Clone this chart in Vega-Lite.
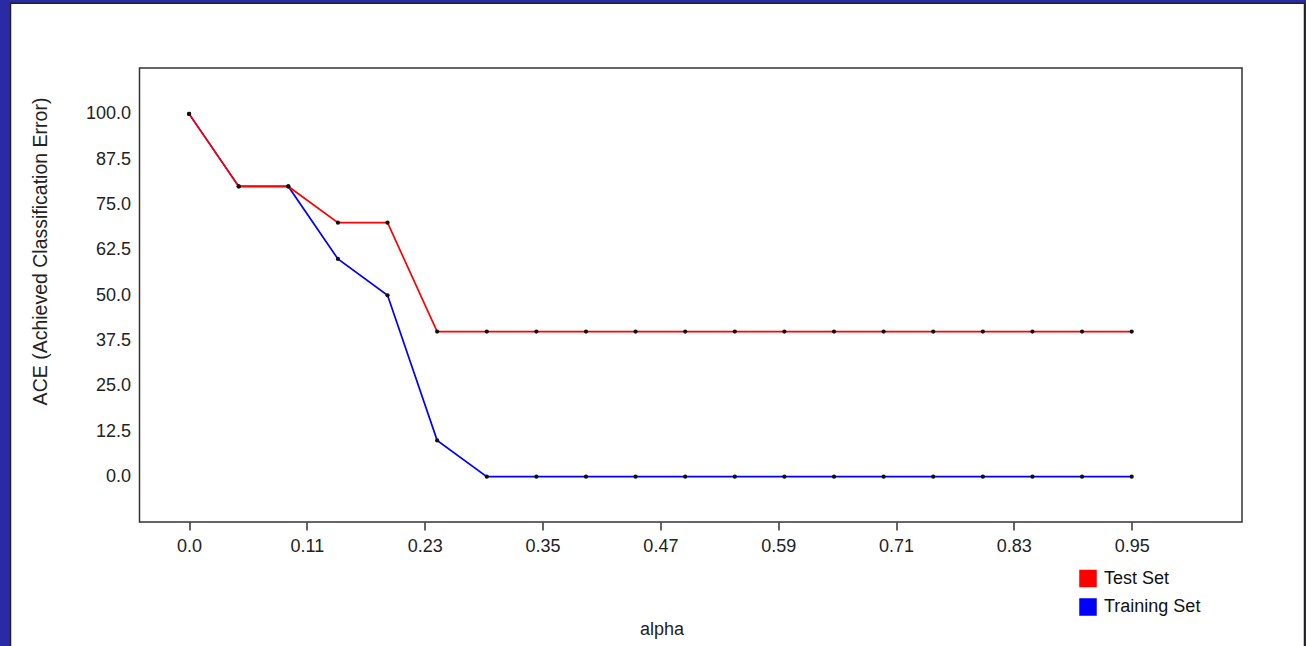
{
  "$schema": "https://vega.github.io/schema/vega-lite/v6.json",
  "width": 1102.5,
  "height": 454,
  "autosize": {"type": "none"},
  "padding": {"left": 139.5, "top": 68, "right": 64, "bottom": 124},
  "background": "#2a2aa6",
  "config": {
    "font": "Liberation Sans",
    "view": {"stroke": null, "fill": null},
    "axis": {
      "labelFont": "Liberation Sans",
      "labelFontSize": 18,
      "labelColor": "#222222",
      "titleFont": "Liberation Sans",
      "titleFontSize": 19.5,
      "titleFontWeight": "normal",
      "titleColor": "#222222",
      "grid": false,
      "domain": false,
      "tickColor": "#333333",
      "tickWidth": 1.5
    }
  },
  "datasets": {
    "ace": [
      {"alpha": 0.00, "ace": 100, "series": "Training Set"},
      {"alpha": 0.05, "ace": 80, "series": "Training Set"},
      {"alpha": 0.10, "ace": 80, "series": "Training Set"},
      {"alpha": 0.15, "ace": 60, "series": "Training Set"},
      {"alpha": 0.20, "ace": 50, "series": "Training Set"},
      {"alpha": 0.25, "ace": 10, "series": "Training Set"},
      {"alpha": 0.30, "ace": 0, "series": "Training Set"},
      {"alpha": 0.35, "ace": 0, "series": "Training Set"},
      {"alpha": 0.40, "ace": 0, "series": "Training Set"},
      {"alpha": 0.45, "ace": 0, "series": "Training Set"},
      {"alpha": 0.50, "ace": 0, "series": "Training Set"},
      {"alpha": 0.55, "ace": 0, "series": "Training Set"},
      {"alpha": 0.60, "ace": 0, "series": "Training Set"},
      {"alpha": 0.65, "ace": 0, "series": "Training Set"},
      {"alpha": 0.70, "ace": 0, "series": "Training Set"},
      {"alpha": 0.75, "ace": 0, "series": "Training Set"},
      {"alpha": 0.80, "ace": 0, "series": "Training Set"},
      {"alpha": 0.85, "ace": 0, "series": "Training Set"},
      {"alpha": 0.90, "ace": 0, "series": "Training Set"},
      {"alpha": 0.95, "ace": 0, "series": "Training Set"},
      {"alpha": 0.00, "ace": 100, "series": "Test Set"},
      {"alpha": 0.05, "ace": 80, "series": "Test Set"},
      {"alpha": 0.10, "ace": 80, "series": "Test Set"},
      {"alpha": 0.15, "ace": 70, "series": "Test Set"},
      {"alpha": 0.20, "ace": 70, "series": "Test Set"},
      {"alpha": 0.25, "ace": 40, "series": "Test Set"},
      {"alpha": 0.30, "ace": 40, "series": "Test Set"},
      {"alpha": 0.35, "ace": 40, "series": "Test Set"},
      {"alpha": 0.40, "ace": 40, "series": "Test Set"},
      {"alpha": 0.45, "ace": 40, "series": "Test Set"},
      {"alpha": 0.50, "ace": 40, "series": "Test Set"},
      {"alpha": 0.55, "ace": 40, "series": "Test Set"},
      {"alpha": 0.60, "ace": 40, "series": "Test Set"},
      {"alpha": 0.65, "ace": 40, "series": "Test Set"},
      {"alpha": 0.70, "ace": 40, "series": "Test Set"},
      {"alpha": 0.75, "ace": 40, "series": "Test Set"},
      {"alpha": 0.80, "ace": 40, "series": "Test Set"},
      {"alpha": 0.85, "ace": 40, "series": "Test Set"},
      {"alpha": 0.90, "ace": 40, "series": "Test Set"},
      {"alpha": 0.95, "ace": 40, "series": "Test Set"}
    ]
  },
  "layer": [
    {
      "data": {"values": [{}]},
      "mark": {"type": "rect", "fill": "white", "stroke": "#222222", "strokeWidth": 1.5},
      "encoding": {
        "x": {"datum": -0.18, "type": "quantitative", "scale": {"domain": [-0.05, 1.0612], "nice": false, "zero": false}},
        "x2": {"datum": 1.1242},
        "y": {"datum": 130.5, "type": "quantitative", "scale": {"domain": [-12.5, 112.65], "nice": false, "zero": false}},
        "y2": {"datum": -70}
      }
    },
    {
      "data": {"values": [{}]},
      "mark": {"type": "rect", "fill": null, "stroke": "#333333", "strokeWidth": 1.5},
      "encoding": {
        "x": {"datum": -0.05, "type": "quantitative"},
        "x2": {"datum": 1.0612},
        "y": {"datum": 112.65, "type": "quantitative"},
        "y2": {"datum": -12.5}
      }
    },
    {
      "data": {"name": "ace"},
      "mark": {"type": "line", "strokeWidth": 1.7},
      "encoding": {
        "x": {
          "field": "alpha",
          "type": "quantitative",
          "axis": {
            "title": "alpha",
            "titleFontSize": 18,
            "zindex": 2,
            "values": [0, 0.11875, 0.2375, 0.35625, 0.475, 0.59375, 0.7125, 0.83125, 0.95],
            "labelExpr": "datum.value == 0 ? '0.0' : format(floor(datum.value * 100 + 1e-6) / 100, '.2f')",
            "tickSize": 8,
            "labelPadding": 7,
            "titleX": 522,
            "titleY": 112,
            "titleBaseline": "alphabetic",
            "titleAlign": "center"
          }
        },
        "y": {
          "field": "ace",
          "type": "quantitative",
          "axis": {
            "title": "ACE (Achieved Classification Error)",
            "zindex": 2,
            "values": [0, 12.5, 25, 37.5, 50, 62.5, 75, 87.5, 100],
            "format": ".1f",
            "ticks": false,
            "labelPadding": 9,
            "titleAngle": -90,
            "titleX": -93.5,
            "titleY": 183,
            "titleBaseline": "alphabetic",
            "titleAlign": "center"
          }
        },
        "color": {
          "field": "series",
          "type": "nominal",
          "scale": {"domain": ["Test Set", "Training Set"], "range": ["#ff0000", "#0000ff"]},
          "legend": {
            "orient": "none",
            "legendX": 939.5,
            "legendY": 501.5,
            "title": null,
            "padding": 0,
            "symbolType": "square",
            "symbolSize": 256,
            "symbolStrokeWidth": 1.5,
            "labelFont": "Liberation Sans",
            "labelFontSize": 18,
            "labelColor": "#111111",
            "labelOffset": 7,
            "rowPadding": 6.5,
            "encode": {
              "symbols": {
                "update": {
                  "fill": {"scale": "color", "field": "value"},
                  "opacity": {"value": 1},
                  "fillOpacity": {"value": 1}
                }
              }
            }
          }
        }
      }
    },
    {
      "data": {"name": "ace"},
      "mark": {"type": "point", "filled": true, "shape": "circle", "size": 18, "color": "#111111", "opacity": 1},
      "encoding": {
        "x": {"field": "alpha", "type": "quantitative"},
        "y": {"field": "ace", "type": "quantitative"}
      }
    }
  ]
}
